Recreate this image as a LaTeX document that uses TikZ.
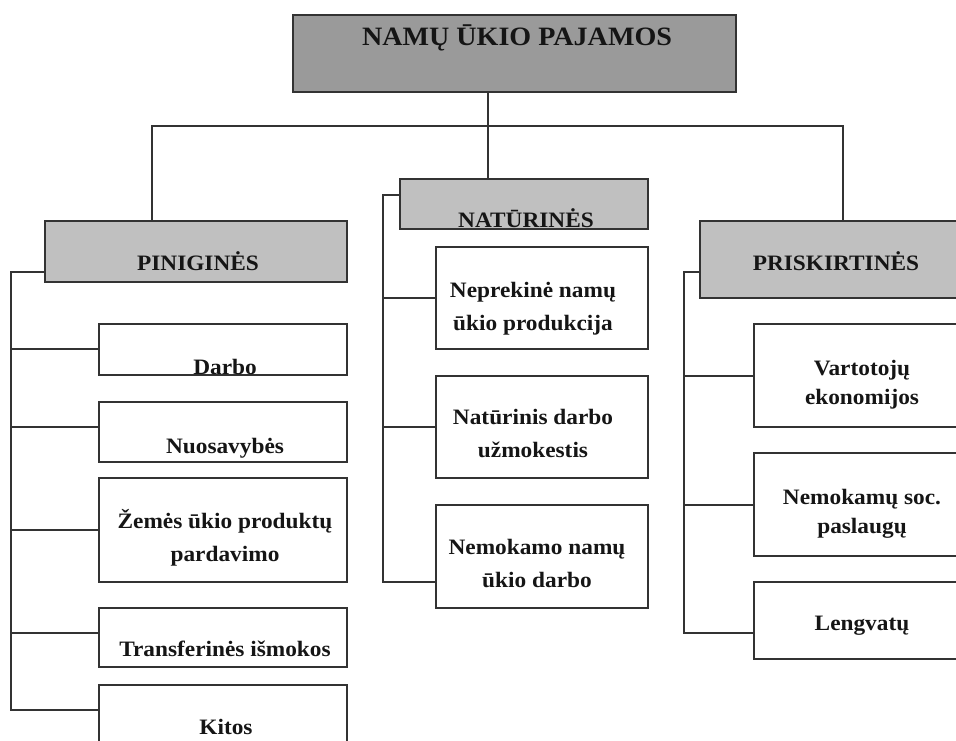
\documentclass[tikz,border=0pt]{standalone}
\usepackage{fontspec}
\setmainfont{Liberation Serif}[FakeStretch=1.06]
\usepackage{xcolor}
\usepackage{tikz}
\definecolor{topgray}{HTML}{9A9A9A}
\definecolor{headgray}{HTML}{C0C0C0}
\definecolor{edge}{HTML}{333333}
\definecolor{ink}{HTML}{151515}

\begin{document}
\begin{tikzpicture}[x=1pt, y=-1pt,
  box/.style={draw=edge, line width=1.4pt, anchor=north west, inner sep=0pt, outer sep=0pt},
  link/.style={draw=edge, line width=1.3pt},
  lbl/.style={text=ink, font=\bfseries\fontsize{22}{33}\selectfont, align=center, anchor=base, inner sep=0pt}]
\useasboundingbox (0,0) rectangle (956,740);
\clip (0,0) rectangle (956,740);
% top box
\node[box, fill=topgray, minimum width=443pt, minimum height=77pt] (title) at (293,15) {};
\node[lbl, font=\bfseries\fontsize{26.5}{30}\selectfont] (title-t) at (517,45) {NAMŲ ŪKIO PAJAMOS};
% three groups
\node[box, fill=headgray, minimum width=302pt, minimum height=61pt] (pin) at (45,221) {};
\node[box, fill=headgray, minimum width=248pt, minimum height=50pt] (nat) at (400,179) {};
\node[box, fill=headgray, minimum width=280pt, minimum height=77pt] (pri) at (700,221) {};
\node[lbl] (pin-t) at (198,270) {PINIGINĖS};
\node[lbl] (nat-t) at (526,227) {NATŪRINĖS};
\node[lbl] (pri-t) at (836,270) {PRISKIRTINĖS};
% money items
\node[box, minimum width=248pt, minimum height=51pt] (darbo) at (99,324) {};
\node[box, minimum width=248pt, minimum height=60pt] (nuos) at (99,402) {};
\node[box, minimum width=248pt, minimum height=104pt] (zem) at (99,478) {};
\node[box, minimum width=248pt, minimum height=59pt] (tran) at (99,608) {};
\node[box, minimum width=248pt, minimum height=60pt] (kit) at (99,685) {};
\node[lbl] (darbo-t) at (225,374) {Darbo};
\node[lbl] (nuos-t) at (225,453) {Nuosavybės};
\node[lbl] (zem-t) at (225,561) {Žemės ūkio produktų\\pardavimo};
\node[lbl] (tran-t) at (225,656) {Transferinės išmokos};
\node[lbl] (kit-t) at (226,734) {Kitos};
% in-kind items
\node[box, minimum width=212pt, minimum height=102pt] (nepr) at (436,247) {};
\node[box, minimum width=212pt, minimum height=102pt] (natd) at (436,376) {};
\node[box, minimum width=212pt, minimum height=103pt] (nemn) at (436,505) {};
\node[lbl] (nepr-t) at (533,330) {Neprekinė namų\\ūkio produkcija};
\node[lbl] (natd-t) at (533,457) {Natūrinis darbo\\užmokestis};
\node[lbl] (nemn-t) at (537,587) {Nemokamo namų\\ūkio darbo};
% imputed items
\node[box, minimum width=226pt, minimum height=103pt] (vart) at (754,324) {};
\node[box, minimum width=226pt, minimum height=103pt] (nems) at (754,453) {};
\node[box, minimum width=226pt, minimum height=77pt] (leng) at (754,582) {};
\node[lbl, font=\bfseries\fontsize{22}{29}\selectfont] (vart-t) at (862,404) {Vartotojų\\ekonomijos};
\node[lbl, font=\bfseries\fontsize{22}{29}\selectfont] (nems-t) at (862,533) {Nemokamų soc.\\paslaugų};
\node[lbl] (leng-t) at (862,630) {Lengvatų};
% connectors
\coordinate (busL) at (152,126);
\coordinate (busM) at (488,126);
\coordinate (busR) at (843,126);
\draw[link] (busM |- title.south) -- (busM |- nat.north);
\draw[link] (busL |- pin.north) -- (busL) -- (busR) -- (busR |- pri.north);
\draw[link] ([yshift=-20.5]pin.west) -- ++(-34,0) |- ([yshift=5]kit.west);
\foreach \b/\s in {darbo/0.5,nuos/5,zem/0,tran/4.5}
  \draw[link] ([yshift=\s]\b.west) -- ++(-88,0);
\draw[link] ([yshift=9]nat.west) -- ++(-17,0) |- ([yshift=-25.5]nemn.west);
\foreach \b in {nepr,natd}
  \draw[link] (\b.west) -- ++(-53,0);
\draw[link] ([yshift=-12.5]pri.west) -- ++(-16,0) |- ([yshift=-12.5]leng.west);
\foreach \b in {vart,nems}
  \draw[link] ([yshift=-0.5]\b.west) -- ++(-70,0);
\end{tikzpicture}
\end{document}
